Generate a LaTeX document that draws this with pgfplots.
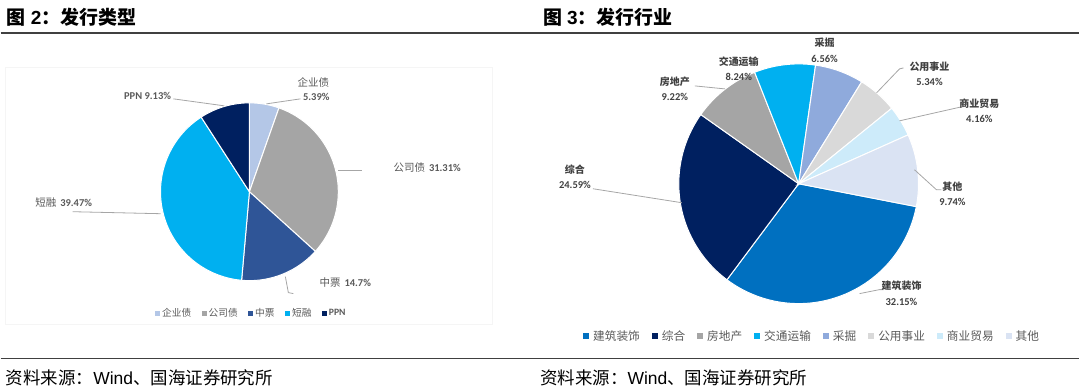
\documentclass[border=0pt]{standalone}
\usepackage{pgfplots}
\pgfplotsset{compat=1.18}
\usepackage{fontspec}
\setmainfont{Carlito}
\newfontfamily\cjk{Noto Sans CJK SC}
\newfontfamily\ls{Liberation Sans}
\definecolor{A1}{HTML}{B4C7E7}
\definecolor{A2}{HTML}{A5A5A5}
\definecolor{A3}{HTML}{2F5597}
\definecolor{A4}{HTML}{00B0F0}
\definecolor{A5}{HTML}{002060}
\definecolor{B1}{HTML}{0070C0}
\definecolor{B2}{HTML}{002060}
\definecolor{B3}{HTML}{A5A5A5}
\definecolor{B4}{HTML}{00B0F0}
\definecolor{B5}{HTML}{8FAADC}
\definecolor{B6}{HTML}{D9D9D9}
\definecolor{B7}{HTML}{CDEBFA}
\definecolor{B8}{HTML}{DAE3F3}
\definecolor{lbl}{HTML}{595959}
\definecolor{lbl2}{HTML}{404040}
\definecolor{lead}{HTML}{A6A6A6}
\definecolor{rulec}{HTML}{404040}
\newcommand\gA{\rule{8.5pt}{0pt}}
\newcommand\gB{\rule{10pt}{0pt}}
\pgfplotsset{canvas/.style={x=1pt,y=1pt,xmin=0,xmax=1080,ymin=0,ymax=391,y dir=reverse,hide axis,clip=false,legend columns=-1}}
\tikzset{lab1/.style={font=\fontsize{10.5}{12}\selectfont, text=lbl, inner sep=0pt},
         lab2/.style={font=\fontsize{10}{11}\selectfont\bfseries, text=lbl2, inner sep=0pt},
         num2/.style={font=\fontsize{10.5}{12}\selectfont\bfseries, text=lbl2, inner sep=0pt},
         ld/.style={draw=lead, line width=0.8pt}}
\begin{document}
\begin{tikzpicture}
% ---------------- Figure 2: issuance type ----------------
\begin{axis}[canvas,
  legend image code/.code={\draw[#1,draw=none] (0pt,-2.5pt) rectangle (5pt,2.5pt);},
  legend style={draw=none,fill=none,font=\color{lbl}\cjk\fontsize{9.7}{11}\selectfont,
    at={(0.2324,0.197)},anchor=center,
    /tikz/every odd column/.append style={column sep=0pt}},
  legend entries={企业债\gA,公司债\gA,中票\gA,短融\gA,{\rmfamily\bfseries PPN}}]
\path (0,0) rectangle (1080,391);
\xdef\cum{0}
\foreach \v/\c in {5.39/A1,31.31/A2,14.7/A3,39.47/A4,9.13/A5}{
  \pgfmathsetmacro\sa{90-3.6*\cum}
  \pgfmathsetmacro\sb{90-3.6*(\cum+\v)}
  \edef\tmp{\noexpand\addplot[fill=\c,draw=white,line width=1pt,domain=\sb:\sa,samples=90] ({249+89*cos(x)},{192-89*sin(x)}) -- (axis cs:249,192) -- cycle;}
  \tmp
  \pgfmathsetmacro\nc{\cum+\v}\xdef\cum{\nc}
}
% rules and titles
\draw[rulec, line width=1.5pt] (0,33) -- (1080,33);
\draw[rulec, line width=1.5pt] (0,359) -- (1080,359);
\draw[black!4, line width=0.8pt] (5,67) rectangle (492,325);
\node[anchor=west, inner sep=0pt, font=\fontsize{19}{21}\selectfont] at (6,17) {{\cjk\bfseries 图}\hspace{5pt}{\ls\bfseries 2}{\cjk\bfseries ：发行类型}};
\node[anchor=west, inner sep=0pt, font=\fontsize{19}{21}\selectfont] at (543,17) {{\cjk\bfseries 图}\hspace{5pt}{\ls\bfseries 3}{\cjk\bfseries ：发行行业}};
\node[anchor=west, inner sep=0pt, font=\fontsize{17.5}{20}\selectfont] at (5,378) {{\cjk 资料来源：}{\ls Wind}{\cjk 、国海证券研究所}};
\node[anchor=west, inner sep=0pt, font=\fontsize{17.5}{20}\selectfont] at (540,378) {{\cjk 资料来源：}{\ls Wind}{\cjk 、国海证券研究所}};
% labels chart 1
\draw[ld] (266,104) -- (300,99);
\node[lab1] at (313,83) {\cjk 企业债};
\node[lab1] at (316,97) {\bfseries 5.39\%};
\draw[ld] (173,99) -- (224,106);
\node[lab1] at (147,96) {\bfseries PPN 9.13\%};
\draw[ld] (338,171) -- (362,171);
\node[lab1] at (427,168) {{\cjk 公司债}\hspace{4pt}\bfseries 31.31\%};
\draw[ld] (72,212) -- (160,214);
\node[lab1] at (63,203) {{\cjk 短融}\hspace{4pt}\bfseries 39.47\%};
\draw[ld] (285,277) -- (288,293) -- (293,294);
\node[lab1] at (345,283) {{\cjk 中票}\hspace{4pt}\bfseries 14.7\%};
\end{axis}
% ---------------- Figure 3: issuer industry ----------------
\begin{axis}[canvas,
  legend image code/.code={\draw[#1,draw=none] (0pt,-3pt) rectangle (6pt,3pt);},
  legend style={draw=none,fill=none,font=\color{lbl}\cjk\fontsize{11.7}{13}\selectfont,
    at={(0.7523,0.139)},anchor=center,
    /tikz/every odd column/.append style={column sep=2pt}},
  legend entries={建筑装饰\gB,综合\gB,房地产\gB,交通运输\gB,采掘\gB,公用事业\gB,商业贸易\gB,其他}]
\xdef\cum{0}
\foreach \v/\c in {32.15/B1,24.59/B2,9.22/B3,8.24/B4,6.56/B5,5.34/B6,4.16/B7,9.74/B8}{
  \pgfmathsetmacro\sa{-11-3.6*\cum}
  \pgfmathsetmacro\sb{-11-3.6*(\cum+\v)}
  \edef\tmp{\noexpand\addplot[fill=\c,draw=white,line width=1pt,domain=\sb:\sa,samples=90] ({799+120*cos(x)},{184-120*sin(x)}) -- (axis cs:799,184) -- cycle;}
  \tmp
  \pgfmathsetmacro\nc{\cum+\v}\xdef\cum{\nc}
}
\node[lab2] at (825,43) {\cjk 采掘};
\node[num2] at (825,59) {6.56\%};
\node[lab2] at (739,62) {\cjk 交通运输};
\node[num2] at (739,77) {8.24\%};
\draw[ld] (695,86) -- (725,89);
\node[lab2] at (675,82) {\cjk 房地产};
\node[num2] at (675,97) {9.22\%};
\draw[ld] (877,93) -- (900,69) -- (904,68);
\node[lab2] at (930,67) {\cjk 公用事业};
\node[num2] at (930,82) {5.34\%};
\draw[ld] (900,121) -- (962,107);
\node[lab2] at (980,104) {\cjk 商业贸易};
\node[num2] at (980,119) {4.16\%};
\draw[ld] (915,170) -- (937,190) -- (942,190);
\node[lab2] at (953,187) {\cjk 其他};
\node[num2] at (953,202) {9.74\%};
\draw[ld] (593,189) -- (682,203);
\node[lab2] at (575,170) {\cjk 综合};
\node[num2] at (575,185) {24.59\%};
\draw[ld] (860,294) -- (880,290) -- (884,290);
\node[lab2] at (902,286) {\cjk 建筑装饰};
\node[num2] at (902,302) {32.15\%};
\end{axis}
\end{tikzpicture}
\end{document}
